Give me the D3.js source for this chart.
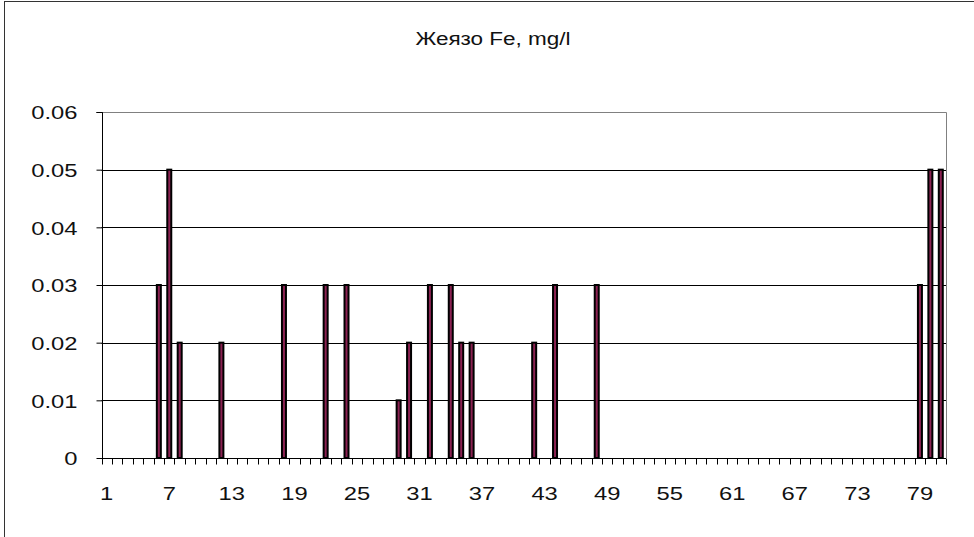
<!DOCTYPE html>
<html>
<head>
<meta charset="utf-8">
<script src="https://cdn.jsdelivr.net/npm/d3@7"></script>
<style>
  html, body { margin: 0; padding: 0; background: #fff; }
  svg { display: block; }
  text { font-family: "Liberation Sans", Arial, sans-serif; fill: #111; }
</style>
</head>
<body>
<svg id="chart" width="974" height="537"></svg>
<script>
const title = "Жеязо Fe, mg/l";
const categories = d3.range(1, 82);
const values = [
  0, 0, 0, 0, 0, 0.03, 0.05, 0.02, 0, 0,
  0, 0.02, 0, 0, 0, 0, 0, 0.03, 0, 0,
  0, 0.03, 0, 0.03, 0, 0, 0, 0, 0.01, 0.02,
  0, 0.03, 0, 0.03, 0.02, 0.02, 0, 0, 0, 0,
  0, 0.02, 0, 0.03, 0, 0, 0, 0.03, 0, 0,
  0, 0, 0, 0, 0, 0, 0, 0, 0, 0,
  0, 0, 0, 0, 0, 0, 0, 0, 0, 0,
  0, 0, 0, 0, 0, 0, 0, 0, 0.03, 0.05,
  0.05
];
const yTicks = [0, 0.01, 0.02, 0.03, 0.04, 0.05, 0.06];
const xTickLabels = [1, 7, 13, 19, 25, 31, 37, 43, 49, 55, 61, 67, 73, 79];

const svg = d3.select("#chart");
const W = 974, H = 537;
const plot = { left: 101.5, right: 946, top: 112, bottom: 458 };
const SX = 1.25; // horizontal text stretch

// outer frame
svg.append("rect")
  .attr("x", 4.5).attr("y", 1.5)
  .attr("width", W + 10).attr("height", H + 10)
  .attr("fill", "#fff").attr("stroke", "#333").attr("stroke-width", 1);

const x = d3.scaleBand().domain(categories).range([plot.left, plot.right]).padding(0);
const y = d3.scaleLinear().domain([0, 0.06]).range([plot.bottom, plot.top]);

// gridlines
svg.append("g").selectAll("line")
  .data(yTicks.slice(1, -1))
  .join("line")
  .attr("x1", plot.left).attr("x2", plot.right)
  .attr("y1", d => Math.round(y(d)) + 0.5).attr("y2", d => Math.round(y(d)) + 0.5)
  .attr("stroke", "#000").attr("stroke-width", 1);

// plot area border (top/right gray)
svg.append("path")
  .attr("d", `M${plot.left},${Math.round(plot.top)+0.5}H${Math.round(plot.right)+0.5}V${plot.bottom}`)
  .attr("fill", "none").attr("stroke", "#808080").attr("stroke-width", 1);

// bars
const bw = 4;
svg.append("g").selectAll("rect")
  .data(categories.map((c, i) => ({ c, v: values[i] })).filter(d => d.v > 0))
  .join("rect")
  .attr("x", d => x(d.c) + x.bandwidth() / 2 - bw / 2)
  .attr("y", d => y(d.v))
  .attr("width", bw)
  .attr("height", d => y(0) - y(d.v))
  .attr("fill", "#8B2252")
  .attr("stroke", "#000")
  .attr("stroke-width", 2);

// y axis
const yAxis = d3.axisLeft(y).tickValues(yTicks).tickSize(6).tickPadding(0).tickFormat(d => d === 0 ? "0" : d3.format(".2f")(d));
const gy = svg.append("g").attr("transform", `translate(${Math.round(plot.left)+0.5},0)`).call(yAxis);
gy.select(".domain").attr("stroke", "#000").attr("d", `M-6,${Math.round(plot.top)+0.5}H0V${plot.bottom}`);
gy.selectAll(".tick line").attr("stroke", "#000");
gy.selectAll(".tick text")
  .attr("x", null).attr("dy", null)
  .attr("font-size", 19)
  .attr("text-anchor", "end")
  .attr("dominant-baseline", "central")
  .attr("transform", `translate(-25,0.5) scale(${SX},1)`);

// x axis with ticks at category boundaries
const gx = svg.append("g").attr("transform", `translate(0,${Math.round(plot.bottom)+0.5})`);
gx.append("line").attr("x1", plot.left).attr("x2", plot.right).attr("stroke", "#000");
const bounds = categories.map(c => x(c)).concat([plot.right]);
gx.selectAll(".xt").data(bounds).join("line").attr("class", "xt")
  .attr("x1", d => Math.round(d) + 0.5).attr("x2", d => Math.round(d) + 0.5)
  .attr("y1", 0).attr("y2", 6).attr("stroke", "#000");
gx.selectAll(".xl").data(xTickLabels).join("text").attr("class", "xl")
  .attr("transform", d => `translate(${x(d) + x.bandwidth() / 2},41.5) scale(${SX},1)`)
  .attr("text-anchor", "middle")
  .attr("font-size", 19)
  .text(d => d);

// title
svg.append("text")
  .attr("transform", `translate(493,45) scale(${SX},1)`)
  .attr("text-anchor", "middle")
  .attr("font-size", 18)
  .text(title);
</script>
</body>
</html>
